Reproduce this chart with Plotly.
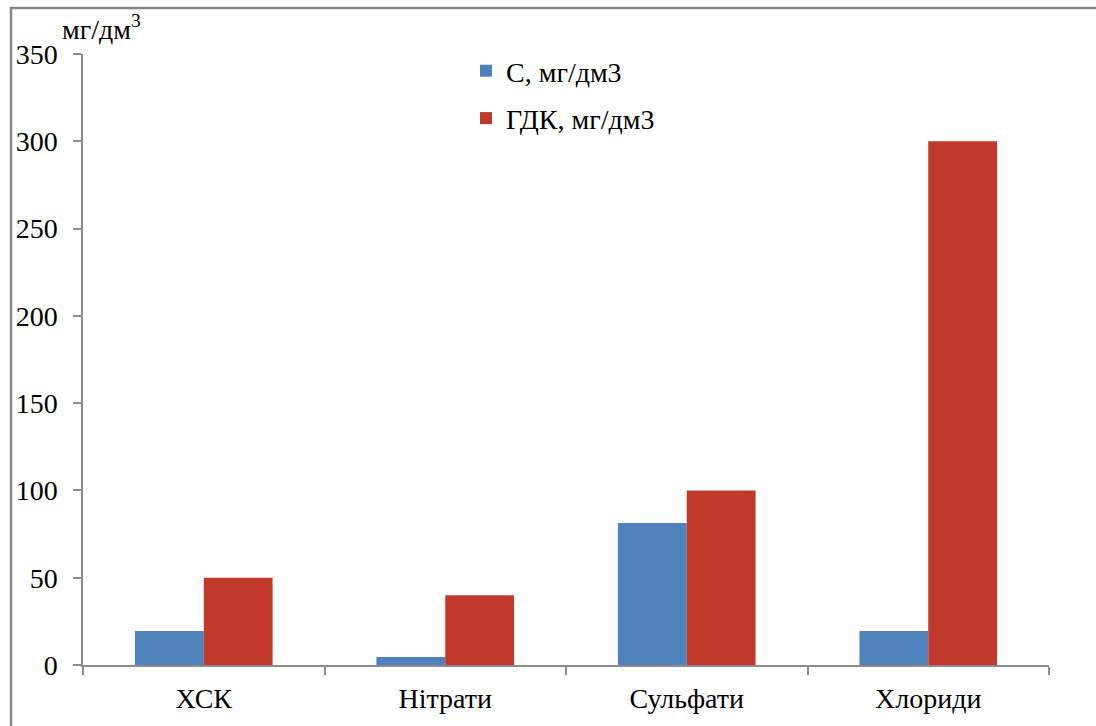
import plotly.graph_objects as go

categories = ["ХСК", "Нітрати", "Сульфати", "Хлориди"]
c_values = [19.5, 4.6, 81.3, 19.5]
gdk_values = [50, 40, 100, 300]
y_ticks = [0, 50, 100, 150, 200, 250, 300, 350]

FONT = "Liberation Serif, Tinos, Times New Roman, serif"
FS = 28
W, H = 1096, 726
ML, MR, MT, MB = 83, 47, 54, 61
PW = W - ML - MR
PH = H - MT - MB

fig = go.Figure()
fig.add_trace(go.Bar(x=categories, y=c_values, name="С, мг/дм3",
                     marker=dict(color="#4F81BD", line=dict(width=0)),
                     legendgroup="a"))
fig.add_trace(go.Bar(x=categories, y=gdk_values, name="ГДК, мг/дм3",
                     marker=dict(color="#C0392B", line=dict(width=0)),
                     legendgroup="b"))

def px_x(px):
    return (px - ML) / PW

def px_y(py):
    return (H - MB - py) / PH

fig.update_layout(
    width=W, height=H,
    margin=dict(l=ML, r=MR, t=MT, b=MB, pad=0),
    paper_bgcolor="white", plot_bgcolor="white",
    barmode="group", bargap=0.43, bargroupgap=0,
    font=dict(family=FONT, size=FS, color="black"),
    showlegend=True,
    legend=dict(x=px_x(466), y=px_y(46), xanchor="left", yanchor="top",
                bgcolor="rgba(0,0,0,0)", tracegroupgap=8,
                font=dict(family=FONT, size=FS, color="black")),
    xaxis=dict(showline=True, linecolor="#8C8C8C", linewidth=1.5,
               ticks="outside", ticklen=8, tickcolor="#8C8C8C", tickwidth=1.5,
               tickson="boundaries", showgrid=False, zeroline=False,
               ticklabelstandoff=8,
               tickfont=dict(family=FONT, size=FS, color="black")),
    yaxis=dict(range=[0, 350], tickvals=y_ticks, showline=True,
               linecolor="#8C8C8C", linewidth=1.5, ticks="outside", ticklen=8,
               tickcolor="#8C8C8C", tickwidth=1.5, showgrid=False, zeroline=False,
               ticklabelstandoff=10,
               tickfont=dict(family=FONT, size=FS, color="black")),
)

fig.add_annotation(text="мг/дм<sup>3</sup>", xref="paper", yref="paper",
                   x=px_x(60), y=px_y(28), xanchor="left", yanchor="middle",
                   showarrow=False, font=dict(family=FONT, size=FS, color="black"))

# outer chart frame (left and top edges visible in the reference)
x0f, y0f, x1f, y1f = px_x(11), px_y(740), px_x(1110), px_y(8)
fig.add_shape(type="path", xref="paper", yref="paper",
              path=f"M {x0f},{y0f} L {x0f},{y1f} L {x1f},{y1f}",
              line=dict(color="#868686", width=2.5), layer="below")

fig.write_html(
    "out.html",
    post_script="document.body.style.margin='0';document.body.style.overflow='hidden';"
                "document.documentElement.style.overflow='hidden';",
)
